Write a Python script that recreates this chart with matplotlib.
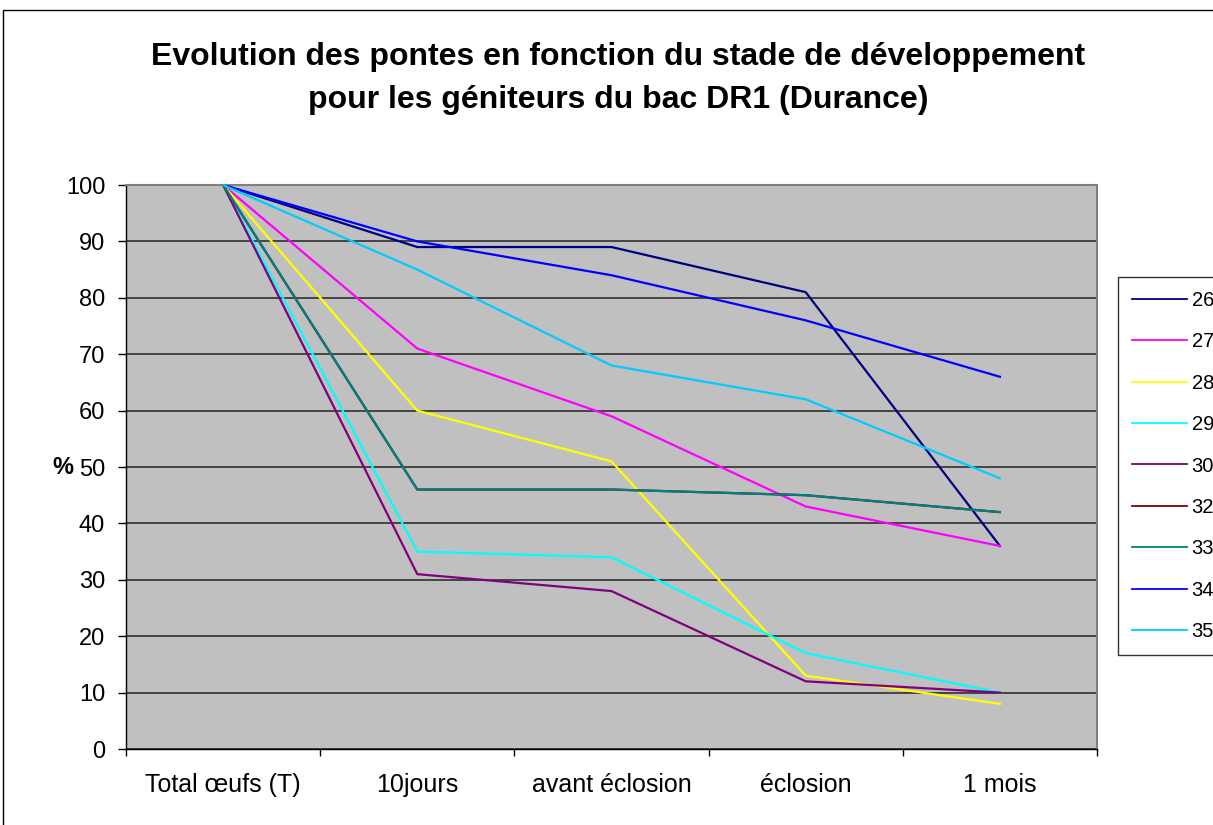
import matplotlib
matplotlib.use("Agg")
import matplotlib.pyplot as plt
from matplotlib.patches import Rectangle

plt.rcParams['font.family'] = ['Liberation Sans', 'DejaVu Sans']

stages = ["Total œufs (T)", "10jours", "avant éclosion", "éclosion", "1 mois"]
series_names = ["26", "27", "28", "29", "30", "32", "33", "34", "35"]
s26 = [100, 89, 89, 81, 36]
s27 = [100, 71, 59, 43, 36]
s28 = [100, 60, 51, 13, 8]
s29 = [100, 35, 34, 17, 10]
s30 = [100, 31, 28, 12, 10]
s32 = [100, 46, 46, 45, 42]
s33 = [100, 46, 46, 45, 42]
s34 = [100, 90, 84, 76, 66]
s35 = [100, 85, 68, 62, 48]
y_ticks = [0, 10, 20, 30, 40, 50, 60, 70, 80, 90, 100]

series_values = [s26, s27, s28, s29, s30, s32, s33, s34, s35]
colors = ["#000080", "#FF00FF", "#FFFF00", "#00FFFF", "#800080",
          "#800000", "#008080", "#0000FF", "#00CCFF"]

W, H = 1213, 825
fig = plt.figure(figsize=(W / 100, H / 100), dpi=100)
fig.patch.set_facecolor("white")

# outer chart frame (runs off the right and bottom edges)
fig.patches.append(Rectangle((3 / W, -0.1), 2.0, 1 - 10 / H + 0.1,
                             transform=fig.transFigure, fill=False,
                             edgecolor="black", linewidth=1.0))

ax = fig.add_axes([126 / W, (H - 749) / H, 971 / W, 564 / H])
ax.set_facecolor("#C0C0C0")

x = list(range(len(stages)))
for name, vals, c in zip(series_names, series_values, colors):
    ax.plot(x, vals, color=c, linewidth=1.6, label=name, zorder=3)

ax.set_xlim(-0.5, len(stages) - 0.5)
ax.set_ylim(0, 100)
ax.set_yticks(y_ticks)
ax.set_yticklabels([str(v) for v in y_ticks], fontsize=17)
ax.yaxis.grid(True, color="#3a3a3a", linewidth=1.3, zorder=1)
ax.set_axisbelow(True)

ax.set_xticks(x)
ax.set_xticklabels(stages, fontsize=18)
ax.tick_params(axis="x", length=0, pad=17)
ax.set_xticks([i - 0.5 for i in range(len(stages) + 1)], minor=True)
ax.tick_params(axis="x", which="minor", length=5, width=1, direction="out")
ax.tick_params(axis="y", length=6, width=1, direction="out", pad=9)

for side in ("top", "right"):
    ax.spines[side].set_color("#808080")
    ax.spines[side].set_linewidth(1.5)
for side in ("left", "bottom"):
    ax.spines[side].set_color("black")
    ax.spines[side].set_linewidth(1.0)

fig.text(63 / W, 1 - 467 / H, "%", ha="center", va="center",
         fontsize=17, fontweight="bold")

title_lines = ["Evolution des pontes en fonction du stade de développement",
               "pour les géniteurs du bac DR1 (Durance)"]
for yy, line in zip([57, 100], title_lines):
    fig.text(618 / W, 1 - yy / H, line, ha="center", va="center",
             fontsize=23, fontweight="bold")

leg = fig.legend(loc="upper left", bbox_to_anchor=(1118 / W, 1 - 277 / H),
                 frameon=True, fancybox=False, fontsize=14.5,
                 handlelength=2.75, handletextpad=0.2, labelspacing=1.11,
                 borderpad=0.7, borderaxespad=0)
leg.get_frame().set_edgecolor("black")
leg.get_frame().set_linewidth(1.0)
for line in leg.get_lines():
    line.set_linewidth(1.3)

fig.savefig("out.png", dpi=100)
